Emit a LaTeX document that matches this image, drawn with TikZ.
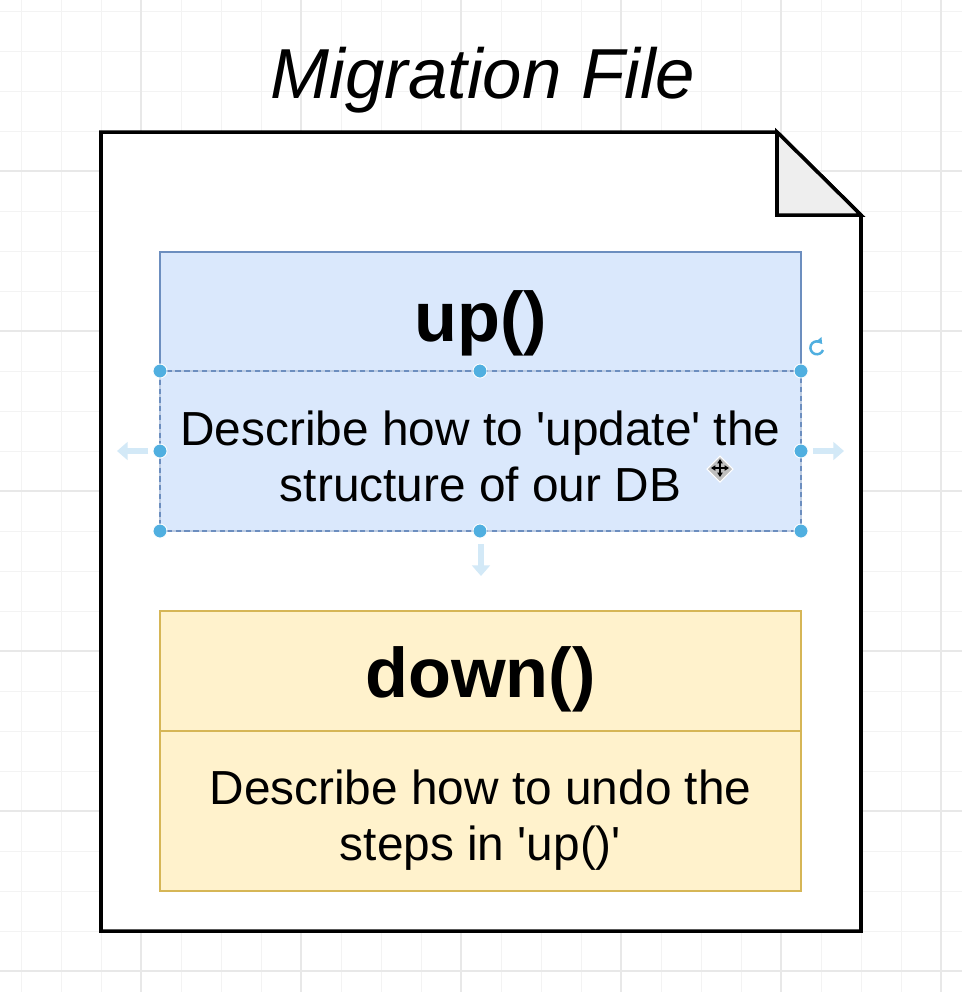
\documentclass[tikz,border=0pt]{standalone}
\usepackage{fontspec}
\setmainfont{Liberation Sans}
\usetikzlibrary{positioning,arrows.meta}
\definecolor{upfill}{HTML}{DAE8FC}
\definecolor{upline}{HTML}{6C8EBF}
\definecolor{downfill}{HTML}{FFF2CC}
\definecolor{downline}{HTML}{D6B656}
\definecolor{foldgray}{HTML}{EEEEEE}
\definecolor{gridline}{HTML}{F3F3F3}
\definecolor{gridmajor}{HTML}{E8E8E8}
\definecolor{handle}{HTML}{50AFE0}
\definecolor{hint}{HTML}{D3E9F7}
\newcommand{\sq}{\textquotesingle}
\tikzset{
  titletxt/.style={font=\fontsize{40.3pt}{46pt}\selectfont\itshape},
  headtxt/.style={font=\fontsize{40pt}{46pt}\selectfont\bfseries},
  bodytxt/.style={font=\fontsize{27.2pt}{31.8pt}\selectfont, align=center},
  upbox/.style={fill=upfill, draw=upline, line width=1.2pt},
  downbox/.style={fill=downfill, draw=downline, line width=1.2pt},
  grip/.style={fill=handle, draw=white, line width=0.5pt},
  hintarrow/.style={hint, line width=3.2pt, -{Triangle[length=6pt,width=10pt]}}
}
\begin{document}
\begin{tikzpicture}[x=0.02cm, y=-0.02cm]
\useasboundingbox (0,0) rectangle (962,992);
% grid
\foreach \gx in {21,61,...,941} \draw[gridline, line width=0.5pt] (\gx,0) -- (\gx,992);
\foreach \gy in {11,51,...,971} \draw[gridline, line width=0.5pt] (0,\gy) -- (962,\gy);
\foreach \gx in {141,301,...,941} \draw[gridmajor, line width=0.6pt] (\gx,0) -- (\gx,992);
\foreach \gy in {171,331,...,971} \draw[gridmajor, line width=0.6pt] (0,\gy) -- (962,\gy);

% file
\filldraw[fill=white, line width=2pt] (101,132) -- (777,132) -- (861,215) -- (861,931) -- (101,931) -- cycle;
\filldraw[fill=foldgray, line width=2pt] (777,132) -- (777,215) -- (861,215) -- cycle;
\node[titletxt] (title) at (483,80) {Migration File};

% up()
\filldraw[upbox] (160,252) rectangle (801,371);
\filldraw[upbox] (160,371) rectangle (801,531);
\draw[upline!45, line width=1.4pt] (160,371) rectangle (801,531);
\draw[upline, line width=1pt, dash pattern=on 3pt off 2pt] (160,371) rectangle (801,531);
\node[headtxt] (uphead) at (480.5,323) {up()};
\node[bodytxt] (upbody) at (480.5,456) {Describe how to \sq update\sq{} the\\structure of our DB};

% down()
\filldraw[downbox] (160,611) rectangle (801,731);
\filldraw[downbox] (160,731) rectangle (801,891);
\node[headtxt] (downhead) at (480.5,679) {down()};
\node[bodytxt] (downbody) at (480.5,820) {Describe how to undo the\\steps in \sq up()\sq};

% selection
\foreach \hx/\hy in {160/371, 480/371, 801/371, 160/451, 801/451, 160/531, 480/531, 801/531}
  \filldraw[grip] (\hx,\hy) circle (7);
\draw[hintarrow] (148,451) -- (117,451);
\draw[hintarrow] (813,451) -- (844,451);
\draw[hintarrow] (481,544) -- (481,576);
\draw[handle, line width=1.4pt, -{Triangle[length=3pt,width=4.5pt]}] (823,350) arc (20:320:6.5);
\filldraw[fill=black!25, draw=white, line width=0.6pt] (720,456) -- (733,469) -- (720,482) -- (707,469) -- cycle;
\draw[black, line width=0.8pt, {Triangle[length=2.5pt,width=3pt]}-{Triangle[length=2.5pt,width=3pt]}] (711,468) -- (729,468);
\draw[black, line width=0.8pt, {Triangle[length=2.5pt,width=3pt]}-{Triangle[length=2.5pt,width=3pt]}] (720,459) -- (720,477);
\end{tikzpicture}
\end{document}
